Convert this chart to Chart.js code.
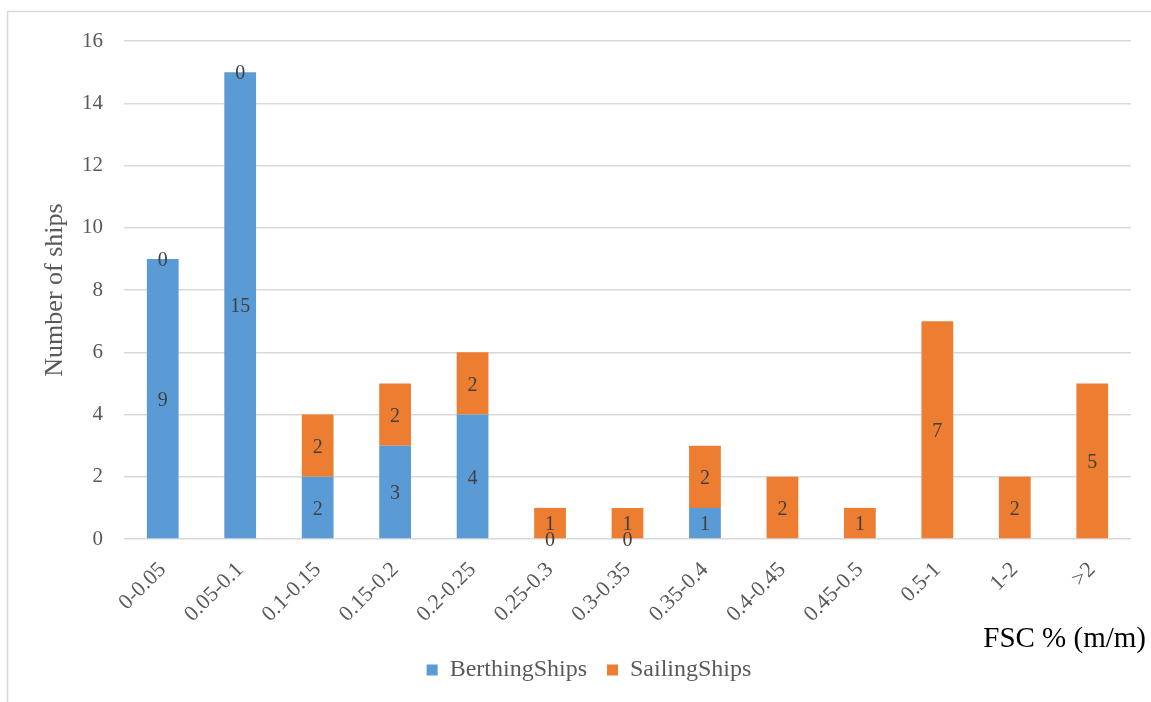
<!DOCTYPE html>
<html>
<head>
<meta charset="utf-8">
<script src="https://cdn.jsdelivr.net/npm/chart.js@4.4.1/dist/chart.umd.min.js"></script>
<style>
  html, body { margin: 0; padding: 0; background: #fff; overflow: hidden; }
  #wrap { width: 1151px; height: 702px; }
</style>
</head>
<body>
<div id="wrap"><canvas id="myChart" width="1151" height="702"></canvas></div>
<script>
// FSC ranges (% m/m)
const categories = ['0-0.05', '0.05-0.1', '0.1-0.15', '0.15-0.2', '0.2-0.25', '0.25-0.3',
  '0.3-0.35', '0.35-0.4', '0.4-0.45', '0.45-0.5', '0.5-1', '1-2', '>2'];
// null = no value in sheet (no label drawn)
const berthingShips = [9, 15, 2, 3, 4, 0, 0, 1, null, null, null, null, null];
const sailingShips = [0, 0, 2, 2, 2, 1, 1, 2, 2, 1, 7, 2, 5];
const yTicks = [0, 2, 4, 6, 8, 10, 12, 14, 16];

const serif = '"Liberation Serif", "Times New Roman", serif';
const grey = '#595959';

// light frame + x axis title
const framePlugin = {
  id: 'frame',
  beforeDraw(chart) {
    const ctx = chart.ctx;
    ctx.save();
    ctx.fillStyle = '#fff';
    ctx.fillRect(0, 0, chart.width, chart.height);
    ctx.strokeStyle = '#d9d9d9';
    ctx.lineWidth = 1.5;
    ctx.beginPath();
    ctx.moveTo(7.5, chart.height + 5);
    ctx.lineTo(7.5, 11.5);
    ctx.lineTo(chart.width + 5, 11.5);
    ctx.stroke();
    ctx.restore();
  },
  afterDraw(chart) {
    const ctx = chart.ctx;
    ctx.save();
    ctx.font = '29px ' + serif;
    ctx.fillStyle = '#000';
    ctx.textAlign = 'right';
    ctx.textBaseline = 'middle';
    ctx.fillText('FSC % (m/m)', 1146, 639);
    ctx.restore();
  }
};

// value labels in the middle of each segment (zeros too)
const labelPlugin = {
  id: 'segLabels',
  afterDatasetsDraw(chart) {
    const ctx = chart.ctx;
    ctx.save();
    ctx.font = '20px ' + serif;
    ctx.fillStyle = '#404040';
    ctx.textAlign = 'center';
    ctx.textBaseline = 'middle';
    chart.data.datasets.forEach((ds, i) => {
      const meta = chart.getDatasetMeta(i);
      meta.data.forEach((bar, j) => {
        const v = ds.data[j];
        if (v == null) return;
        ctx.fillText(String(v), bar.x, (bar.y + bar.base) / 2 + 2);
      });
    });
    ctx.restore();
  }
};

const ctx = document.getElementById('myChart').getContext('2d');
const myChart = new Chart(ctx, {
  type: 'bar',
  data: {
    labels: categories,
    datasets: [
      {
        label: 'BerthingShips',
        data: berthingShips,
        backgroundColor: '#5b9bd5',
        barPercentage: 0.41,
        categoryPercentage: 1
      },
      {
        label: 'SailingShips',
        data: sailingShips,
        backgroundColor: '#ed7d31',
        barPercentage: 0.41,
        categoryPercentage: 1
      }
    ]
  },
  options: {
    responsive: false,
    animation: false,
    events: [],
    layout: { padding: { left: 47, right: 20, top: 41, bottom: 10 } },
    plugins: {
      legend: {
        position: 'bottom',
        labels: {
          boxWidth: 11,
          boxHeight: 11,
          padding: 20,
          color: grey,
          font: { family: serif, size: 24 }
        }
      },
      tooltip: { enabled: false }
    },
    scales: {
      x: {
        stacked: true,
        grid: { display: false },
        border: { display: false },
        ticks: {
          color: grey,
          font: { family: serif, size: 22 },
          maxRotation: 45,
          minRotation: 45,
          padding: 10
        },
        afterFit(s) { s.height = 99; }
      },
      y: {
        stacked: true,
        min: 0,
        max: 16,
        afterBuildTicks(s) { s.ticks = yTicks.map(v => ({ value: v })); },
        grid: { color: '#d9d9d9', lineWidth: 1.5, drawTicks: false },
        border: { display: false },
        ticks: {
          color: grey,
          font: { family: serif, size: 21 },
          padding: 21
        },
        title: {
          display: true,
          text: 'Number of ships',
          color: grey,
          font: { family: serif, size: 26 },
          padding: { top: -7, bottom: 0 }
        },
        afterFit(s) { s.width = 77; }
      }
    }
  },
  plugins: [framePlugin, labelPlugin]
});
</script>
</body>
</html>
